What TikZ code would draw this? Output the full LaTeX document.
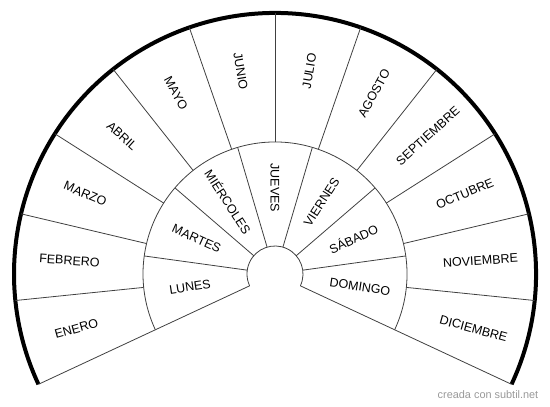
\documentclass[tikz,border=0pt]{standalone}
\usepackage{fontspec}
\setmainfont{Liberation Sans}
\usetikzlibrary{calc}

\begin{document}
\begin{tikzpicture}[x=1pt, y=1pt,
    spoke/.style={draw=black!75, line width=0.8pt},
    rim/.style={draw=black, line width=4pt},
    word/.style={font=\fontsize{12.5}{14}\selectfont, inner sep=0pt}]

  \useasboundingbox (0,0) rectangle (550,407);
  \coordinate (O) at (275,133);

  % hub, day ring and rim
  \draw[spoke] ($(O)+(-25:28)$) arc[start angle=-25, end angle=205, radius=28];
  \draw[spoke] ($(O)+(-25:132)$) arc[start angle=-25, end angle=205, radius=132];
  \draw[rim] ($(O)+(-25:261)$) arc[start angle=-25, end angle=205, radius=261];

  % day spokes
  \foreach \i in {0,...,7}
    \draw[spoke] ($(O)+({-25+\i*230/7}:28)$) -- ($(O)+({-25+\i*230/7}:132)$);

  % month spokes
  \foreach \i in {0,...,12}
    \draw[spoke] ($(O)+({-25+\i*230/12}:132)$) -- ($(O)+({-25+\i*230/12}:261)$);

  % days
  \foreach \d [count=\i] in {LUNES,MARTES,MIÉRCOLES,JUEVES,VIERNES,SÁBADO,DOMINGO} {
    \pgfmathsetmacro{\ang}{205-(\i-0.5)*230/7}
    \pgfmathsetmacro{\rot}{\ang>89.9 ? \ang-180 : \ang}
    \node[word, rotate=\rot] (day\i) at ($(O)+(\ang:86)$) {\d};
  }

  % months
  \foreach \m [count=\i] in {ENERO,FEBRERO,MARZO,ABRIL,MAYO,JUNIO,JULIO,AGOSTO,SEPTIEMBRE,OCTUBRE,NOVIEMBRE,DICIEMBRE} {
    \pgfmathsetmacro{\ang}{205-(\i-0.5)*230/12}
    \pgfmathsetmacro{\rot}{\ang>89.9 ? \ang-180 : \ang}
    \node[word, rotate=\rot] (month\i) at ($(O)+(\ang:206)$) {\m};
  }

  % credit
  \node[font=\fontsize{10.9}{12}\selectfont, text=black!40, inner sep=0pt, anchor=east]
    (credit) at (538.5,12) {creada con subtil.net};
\end{tikzpicture}
\end{document}
